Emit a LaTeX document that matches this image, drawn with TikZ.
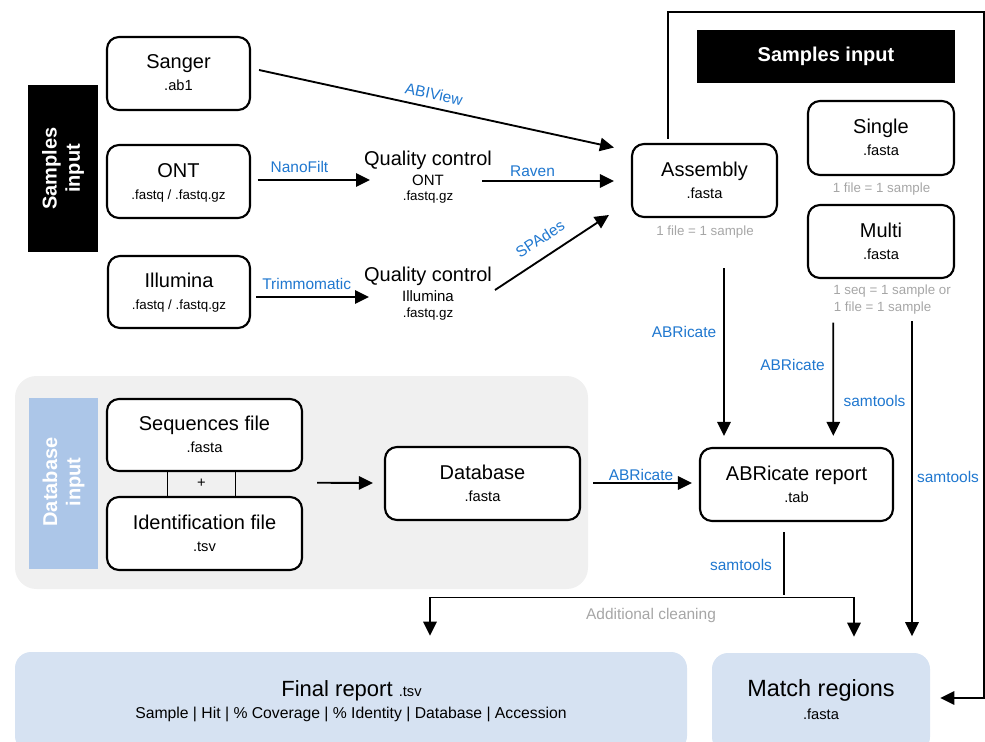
\documentclass[tikz,border=0pt]{standalone}
\usepackage{fontspec}
\setmainfont{Liberation Sans}
\usetikzlibrary{arrows.meta,calc}
\definecolor{toolblue}{RGB}{31,119,207}
\definecolor{notegray}{RGB}{166,166,166}
\definecolor{panelgray}{RGB}{240,240,240}
\definecolor{dbblue}{RGB}{172,198,232}
\definecolor{outblue}{RGB}{214,226,242}
\newcommand\mkboxtext[4]{%
  \node[ttl] (#1-t) at ($(#1.center)+(0,-4.5)$) {#2};
  \node[#4] (#1-s) at ($(#1.center)+(0,17.5)$) {#3};}
\begin{document}
\begin{tikzpicture}[x=0.75pt,y=-0.75pt,
  box/.style 2 args={draw,line width=1.6pt,rounded corners=9pt,fill=white,inner sep=0pt,minimum width=#1,minimum height=#2},
  ttl/.style={font=\fontsize{15}{18}\selectfont,anchor=base,inner sep=0pt},
  sub/.style={font=\fontsize{11}{13}\selectfont,anchor=base,inner sep=0pt},
  subs/.style={font=\fontsize{10}{12}\selectfont,anchor=base,inner sep=0pt},
  tool/.style={text=toolblue,font=\fontsize{11.6}{14}\selectfont,anchor=base,inner sep=0pt},
  note/.style={text=notegray,font=\fontsize{10}{12}\selectfont,anchor=base,inner sep=0pt},
  hdr/.style={fill=black,text=white,font=\bfseries\fontsize{15}{17.5}\selectfont,inner sep=0pt,align=center},
  hdrtext/.style={text=white,font=\bfseries\fontsize{15}{17.5}\selectfont,inner sep=0pt,align=center,rotate=90},
  tip/.tip={Triangle[length=10.5pt,width=10pt]},
  arr/.style={line width=1.4pt,-tip},
  dblarr/.style={line width=1.4pt,tip-tip},
  ln/.style={line width=1.4pt},
  thinln/.style={line width=1pt},
]
\clip (0,0) rectangle (985,742);

% ---------- panels ----------
\node[fill=panelgray,rounded corners=16pt,minimum width=429.75pt,minimum height=159.75pt,inner sep=0pt] (dbpanel) at (301.5,482.5) {};
\node[fill=dbblue,minimum width=51.75pt,minimum height=128.25pt,inner sep=0pt] (dbin) at (63.5,483.5) {};
\node[hdrtext] (dbin-t) at (63.5,482) {Database\\input};

\node[hdr,minimum width=52.5pt,minimum height=125.25pt] (sinV) at (63,168.5) {};
\node[hdrtext] (sinV-t) at (63,168.5) {Samples\\input};
\node[hdr,minimum width=193.5pt,minimum height=39.75pt] (sinH) at (826,56.5) {Samples input};

% ---------- boxes ----------
\node[box={107.25pt}{54.75pt}] (sanger) at (178.5,73.5) {};
\mkboxtext{sanger}{Sanger}{.ab1}{sub}
\node[box={107.25pt}{54.75pt}] (ont) at (178.5,181.5) {};
\mkboxtext{ont}{ONT}{.fastq / .fastq.gz}{subs}
\node[box={106.5pt}{54pt}] (illumina) at (179,292) {};
\mkboxtext{illumina}{Illumina}{.fastq / .fastq.gz}{subs}
\node[box={108.75pt}{54.75pt}] (assembly) at (704.5,180.5) {};
\mkboxtext{assembly}{Assembly}{.fasta}{sub}
\node[box={109.5pt}{55.5pt}] (single) at (881,138) {};
\mkboxtext{single}{Single}{.fasta}{sub}
\node[box={109.5pt}{54.75pt}] (multi) at (881,241.5) {};
\mkboxtext{multi}{Multi}{.fasta}{sub}
\node[box={146.25pt}{54pt}] (seqfile) at (204.5,435) {};
\mkboxtext{seqfile}{Sequences file}{.fasta}{sub}
\node[box={146.25pt}{54.75pt}] (idfile) at (204.5,533.5) {};
\mkboxtext{idfile}{Identification file}{.tsv}{sub}
\node[box={146.25pt}{54.75pt}] (database) at (482.5,483.5) {};
\mkboxtext{database}{Database}{.fasta}{sub}
\node[box={144.75pt}{54.75pt}] (report) at (796.5,484.5) {};
\mkboxtext{report}{ABRicate report}{.tab}{sub}

\node[fill=outblue,rounded corners=12pt,minimum width=504pt,minimum height=75pt,inner sep=0pt] (final) at (351,702) {};
\node[anchor=base,inner sep=0pt,font=\fontsize{16.5}{19}\selectfont] (final-t) at (351.5,696) {Final report {\fontsize{11}{13}\selectfont .tsv}};
\node[anchor=base,inner sep=0pt,font=\fontsize{11.8}{14}\selectfont] (final-s) at (351,718.5) {Sample | Hit | \% Coverage | \% Identity | Database | Accession};
\node[fill=outblue,rounded corners=12pt,minimum width=163.5pt,minimum height=75pt,inner sep=0pt] (match) at (821,703) {};
\node[anchor=base,inner sep=0pt,font=\fontsize{17.6}{20}\selectfont] (match-t) at (821,696.5) {Match regions};
\node[sub] (match-s) at (821,719) {.fasta};

% ---------- quality control texts ----------
\coordinate (qcont) at (428,180);
\node[ttl] (qcont-t) at (428,165) {Quality control};
\node[anchor=base,inner sep=0pt,font=\fontsize{11.25}{13}\selectfont] (qcont-m) at (428,185.5) {ONT};
\node[subs] (qcont-s) at (428,200) {.fastq.gz};
\coordinate (qcill) at (428,297);
\node[ttl] (qcill-t) at (428,281) {Quality control};
\node[anchor=base,inner sep=0pt,font=\fontsize{11.25}{13}\selectfont] (qcill-m) at (428,301.5) {Illumina};
\node[subs] (qcill-s) at (428,317) {.fastq.gz};

% ---------- notes ----------
\node[note] (n-asm) at (705,235) {1 file = 1 sample};
\node[note] (n-single) at (881.5,192) {1 file = 1 sample};
\node[note,anchor=base west] (n-multi1) at (833,294.3) {1 seq = 1 sample or};
\node[note,anchor=base west] (n-multi2) at (833.5,311.7) {1 file = 1 sample};

% ---------- connectors ----------
\draw[arr] ($(sanger.east)+(8,-3.5)$) -- ($(assembly.west)+(-17,-33)$);
\node[tool,anchor=center,rotate=-12.2] (l-abiview) at (434,94) {ABIView};

\draw[arr] ($(ont.east)+(6.5,-1.5)$) -- ($(qcont)+(-58,0)$);
\node[tool] (l-nanofilt) at (299.5,172) {NanoFilt};
\draw[arr] ($(qcont)+(54,1)$) -- ($(assembly.west)+(-17,0.5)$);
\node[tool] (l-raven) at (532.5,176) {Raven};

\draw[arr] ($(illumina.east)+(5,5)$) -- ($(qcill)+(-59,0)$);
\node[tool] (l-trimmo) at (306.7,289.5) {Trimmomatic};
\draw[arr] ($(qcill)+(67,-7)$) -- ($(assembly.west)+(-22,34.5)$);
\node[tool,anchor=center,rotate=33] (l-spades) at (540,239) {SPAdes};

\draw[arr] ($(assembly.south)+(19.5,50)$) -- ($(report.north)+(-72.5,-11)$);
\node[tool] (l-abr1) at (684,337) {ABRicate};

\draw[arr] ($(multi.south)+(-47.7,43.5)$) -- ($(report.north)+(36.8,-11)$);
\node[tool] (l-abr2) at (792.5,370.5) {ABRicate};
\node[tool] (l-sam1) at (874.5,406) {samtools};

\draw[arr] ($(multi.south)+(31,42)$) -- ($(match.north)+(91,-16.5)$);
\node[tool] (l-sam2) at (948,482) {samtools};

\coordinate (topright) at (984,12);
\draw[arr] ($(assembly.north)+(-36.5,-4)$) |- (topright) |- ($(match.east)+(10,-5)$);

\draw[thinln] ($(seqfile.south)+(-37,0)$) -- ($(idfile.north)+(-37,0)$);
\draw[thinln] ($(seqfile.south)+(31,0)$) -- ($(idfile.north)+(31,0)$);
\node[anchor=center,inner sep=0pt,font=\fontsize{11}{13}\selectfont] (plus) at (201.5,483.5) {+};
\coordinate (plusmid) at ($(seqfile.east)!0.5!(idfile.east)$);
\draw[arr] ($(plusmid)+(14,-1.5)$) -- ($(database.west)+(-11,-0.5)$);

\draw[arr] ($(database.east)+(12,-0.5)$) -- ($(report.west)+(-7,-1.5)$);
\node[tool] (l-abr3) at (641,480.5) {ABRicate};

\draw[ln] ($(report.south)+(-12.5,10)$) -- ($(report.south)+(-12.5,72.5)$);
\node[tool] (l-sam3) at (741,570.7) {samtools};

\coordinate (cleanR) at (854,597.5);
\draw[dblarr] ($(final.north)+(79,-16)$) |- (cleanR) -- ($(match.north)+(33,-16)$);
\node[tool,text=notegray] (l-clean) at (651,619) {Additional cleaning};
\end{tikzpicture}
\end{document}
